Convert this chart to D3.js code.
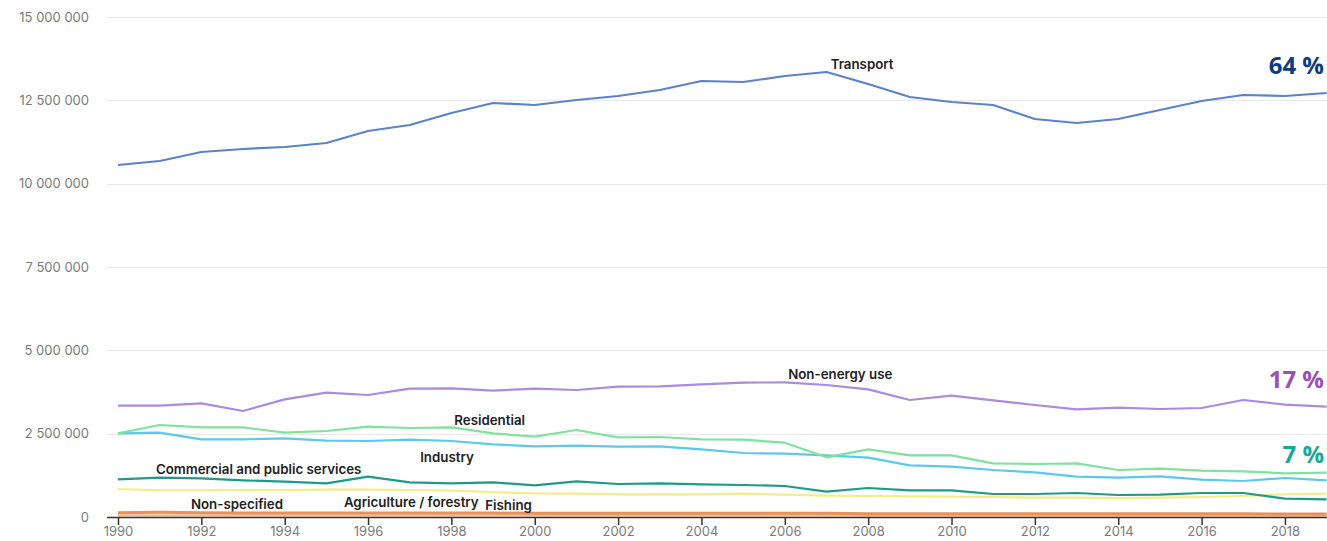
<!DOCTYPE html>
<meta charset="utf-8">
<style>

body {
  margin: 0;
  background: #fff;
}

.grid line {
  stroke: #e8e8e8;
  stroke-width: 1px;
}

.tick text {
  font-family: Inter, "DejaVu Sans", sans-serif;
  font-size: 13px;
  fill: #7a7a7a;
}

.series {
  fill: none;
  stroke-width: 2.2px;
  stroke-linejoin: round;
}

.lbl {
  font-family: Inter, "Liberation Sans", sans-serif;
  font-size: 13.3px;
  font-weight: 600;
  fill: #222;
}

.pct {
  font-family: "Open Sans", "Liberation Sans", sans-serif;
  font-size: 24px;
  font-weight: 700;
  text-anchor: end;
}

</style>
<body>
<script src="https://cdn.jsdelivr.net/npm/d3@7"></script>
<script>

var w = 1327,
    h = 541;

var years = d3.range(1990, 2020);

var transport = [10.56, 10.68, 10.95, 11.04, 11.10, 11.22, 11.58, 11.76, 12.12, 12.42,
                 12.36, 12.51, 12.63, 12.81, 13.08, 13.05, 13.23, 13.35, 12.99, 12.60,
                 12.45, 12.36, 11.94, 11.82, 11.94, 12.21, 12.48, 12.66, 12.63, 12.72];
var nonEnergy = [3.34, 3.34, 3.41, 3.18, 3.53, 3.73, 3.66, 3.85, 3.86, 3.79,
                 3.85, 3.81, 3.91, 3.92, 3.98, 4.03, 4.04, 3.96, 3.83, 3.51,
                 3.64, 3.50, 3.36, 3.23, 3.28, 3.24, 3.27, 3.51, 3.37, 3.31];
var residential = [2.51, 2.76, 2.69, 2.69, 2.53, 2.58, 2.71, 2.67, 2.69, 2.51,
                   2.41, 2.61, 2.39, 2.40, 2.33, 2.32, 2.23, 1.79, 2.03, 1.85,
                   1.85, 1.61, 1.59, 1.61, 1.41, 1.45, 1.39, 1.37, 1.31, 1.33];
var industry = [2.51, 2.53, 2.33, 2.33, 2.36, 2.29, 2.28, 2.32, 2.28, 2.18,
                2.12, 2.14, 2.11, 2.12, 2.03, 1.92, 1.90, 1.85, 1.78, 1.55,
                1.51, 1.41, 1.34, 1.21, 1.18, 1.22, 1.12, 1.08, 1.17, 1.10];
var commercial = [1.13, 1.18, 1.16, 1.10, 1.06, 1.01, 1.21, 1.04, 1.01, 1.04,
                  0.95, 1.07, 0.99, 1.01, 0.98, 0.96, 0.93, 0.76, 0.87, 0.80,
                  0.80, 0.69, 0.69, 0.72, 0.66, 0.67, 0.72, 0.72, 0.55, 0.53];
var agriculture = [0.84, 0.80, 0.80, 0.81, 0.81, 0.82, 0.82, 0.81, 0.79, 0.75,
                   0.71, 0.70, 0.68, 0.68, 0.68, 0.70, 0.67, 0.64, 0.63, 0.62,
                   0.61, 0.60, 0.58, 0.58, 0.57, 0.58, 0.60, 0.63, 0.68, 0.70];
var nonSpecified = [0.13, 0.14, 0.13, 0.12, 0.12, 0.12, 0.12, 0.12, 0.12, 0.12,
                    0.11, 0.11, 0.11, 0.11, 0.11, 0.11, 0.11, 0.11, 0.10, 0.10,
                    0.10, 0.10, 0.10, 0.10, 0.10, 0.10, 0.10, 0.10, 0.09, 0.09];
var fishing = [0.05, 0.05, 0.05, 0.05, 0.05, 0.05, 0.05, 0.05, 0.05, 0.05,
               0.05, 0.05, 0.05, 0.05, 0.05, 0.05, 0.05, 0.05, 0.04, 0.04,
               0.04, 0.04, 0.04, 0.04, 0.04, 0.04, 0.04, 0.04, 0.04, 0.04];

var yTicks = [0, 2500000, 5000000, 7500000, 10000000, 12500000, 15000000];
var xTicks = d3.range(1990, 2020, 2);

var series = [
  {name: "Fishing", values: fishing, color: "#f6b98c", width: 2.2},
  {name: "Non-specified", values: nonSpecified, color: "#e8915a", width: 3},
  {name: "Agriculture / forestry", values: agriculture, color: "#f4ec86", width: 2.2},
  {name: "Commercial and public services", values: commercial, color: "#1f9a8a", width: 2.2},
  {name: "Industry", values: industry, color: "#5cc8ec", width: 2.2},
  {name: "Residential", values: residential, color: "#80e29e", width: 2.2},
  {name: "Non-energy use", values: nonEnergy, color: "#a98ce0", width: 2.2},
  {name: "Transport", values: transport, color: "#5b83c6", width: 2.2}
];

// label spots: [year, value in millions]
var labels = [
  {text: "Transport", year: 2007.1, v: 13.58},
  {text: "Non-energy use", year: 2006.08, v: 4.27},
  {text: "Residential", year: 1998.07, v: 2.89},
  {text: "Industry", year: 1997.25, v: 1.78},
  {text: "Commercial and public services", year: 1990.91, v: 1.42},
  {text: "Non-specified", year: 1991.75, v: 0.38},
  {text: "Agriculture / forestry", year: 1995.42, v: 0.44},
  {text: "Fishing", year: 1998.81, v: 0.35}
];

var pcts = [
  {text: "64 %", v: 13.55, color: "#0e3d78"},
  {text: "17 %", v: 4.12, color: "#9d4fb8"},
  {text: "7 %", v: 1.86, color: "#19a898"}
];

var x = d3.scaleLinear().domain([1990, 2019]).range([118, 1326.6]);
var y = d3.scaleLinear().domain([0, 15000000]).range([517, 17]);

var svg = d3.select("body").append("svg")
    .attr("width", w)
    .attr("height", h);

svg.append("g")
    .attr("class", "grid")
  .selectAll("line")
    .data(yTicks.slice(1))
  .enter().append("line")
    .attr("x1", 107)
    .attr("x2", w)
    .attr("y1", function(d) { return Math.round(y(d)) + 0.5; })
    .attr("y2", function(d) { return Math.round(y(d)) + 0.5; });

var fmt = function(d) { return d3.format(",")(d).replace(/,/g, " "); };

var yAxis = svg.append("g")
    .attr("transform", "translate(89,0)")
    .call(d3.axisLeft(y).tickValues(yTicks).tickFormat(fmt).tickSize(0).tickPadding(0));
yAxis.select(".domain").remove();

var line = d3.line()
    .x(function(d, i) { return x(years[i]); })
    .y(function(d) { return y(d * 1000000); });

svg.selectAll(".series")
    .data(series)
  .enter().append("path")
    .attr("class", "series")
    .attr("d", function(d) { return line(d.values); })
    .style("stroke", function(d) { return d.color; })
    .style("stroke-width", function(d) { return d.width; });

var xAxis = svg.append("g")
    .attr("transform", "translate(0,517)")
    .call(d3.axisBottom(x).tickValues(xTicks).tickFormat(d3.format("d")).tickSize(8).tickPadding(2));
xAxis.select(".domain").remove();
xAxis.selectAll(".tick line").style("stroke", "#333").style("stroke-width", 1.5);

svg.append("line")
    .attr("x1", 107)
    .attr("x2", w)
    .attr("y1", 517.5)
    .attr("y2", 517.5)
    .style("stroke", "#333")
    .style("stroke-width", 1.5);

svg.selectAll(".lbl")
    .data(labels)
  .enter().append("text")
    .attr("class", "lbl")
    .attr("x", function(d) { return x(d.year); })
    .attr("y", function(d) { return y(d.v * 1000000); })
    .attr("dy", "0.35em")
    .text(function(d) { return d.text; });

svg.selectAll(".pct")
    .data(pcts)
  .enter().append("text")
    .attr("class", "pct")
    .attr("x", 1324)
    .attr("y", function(d) { return y(d.v * 1000000); })
    .attr("dy", "0.35em")
    .style("fill", function(d) { return d.color; })
    .text(function(d) { return d.text; });

</script>
